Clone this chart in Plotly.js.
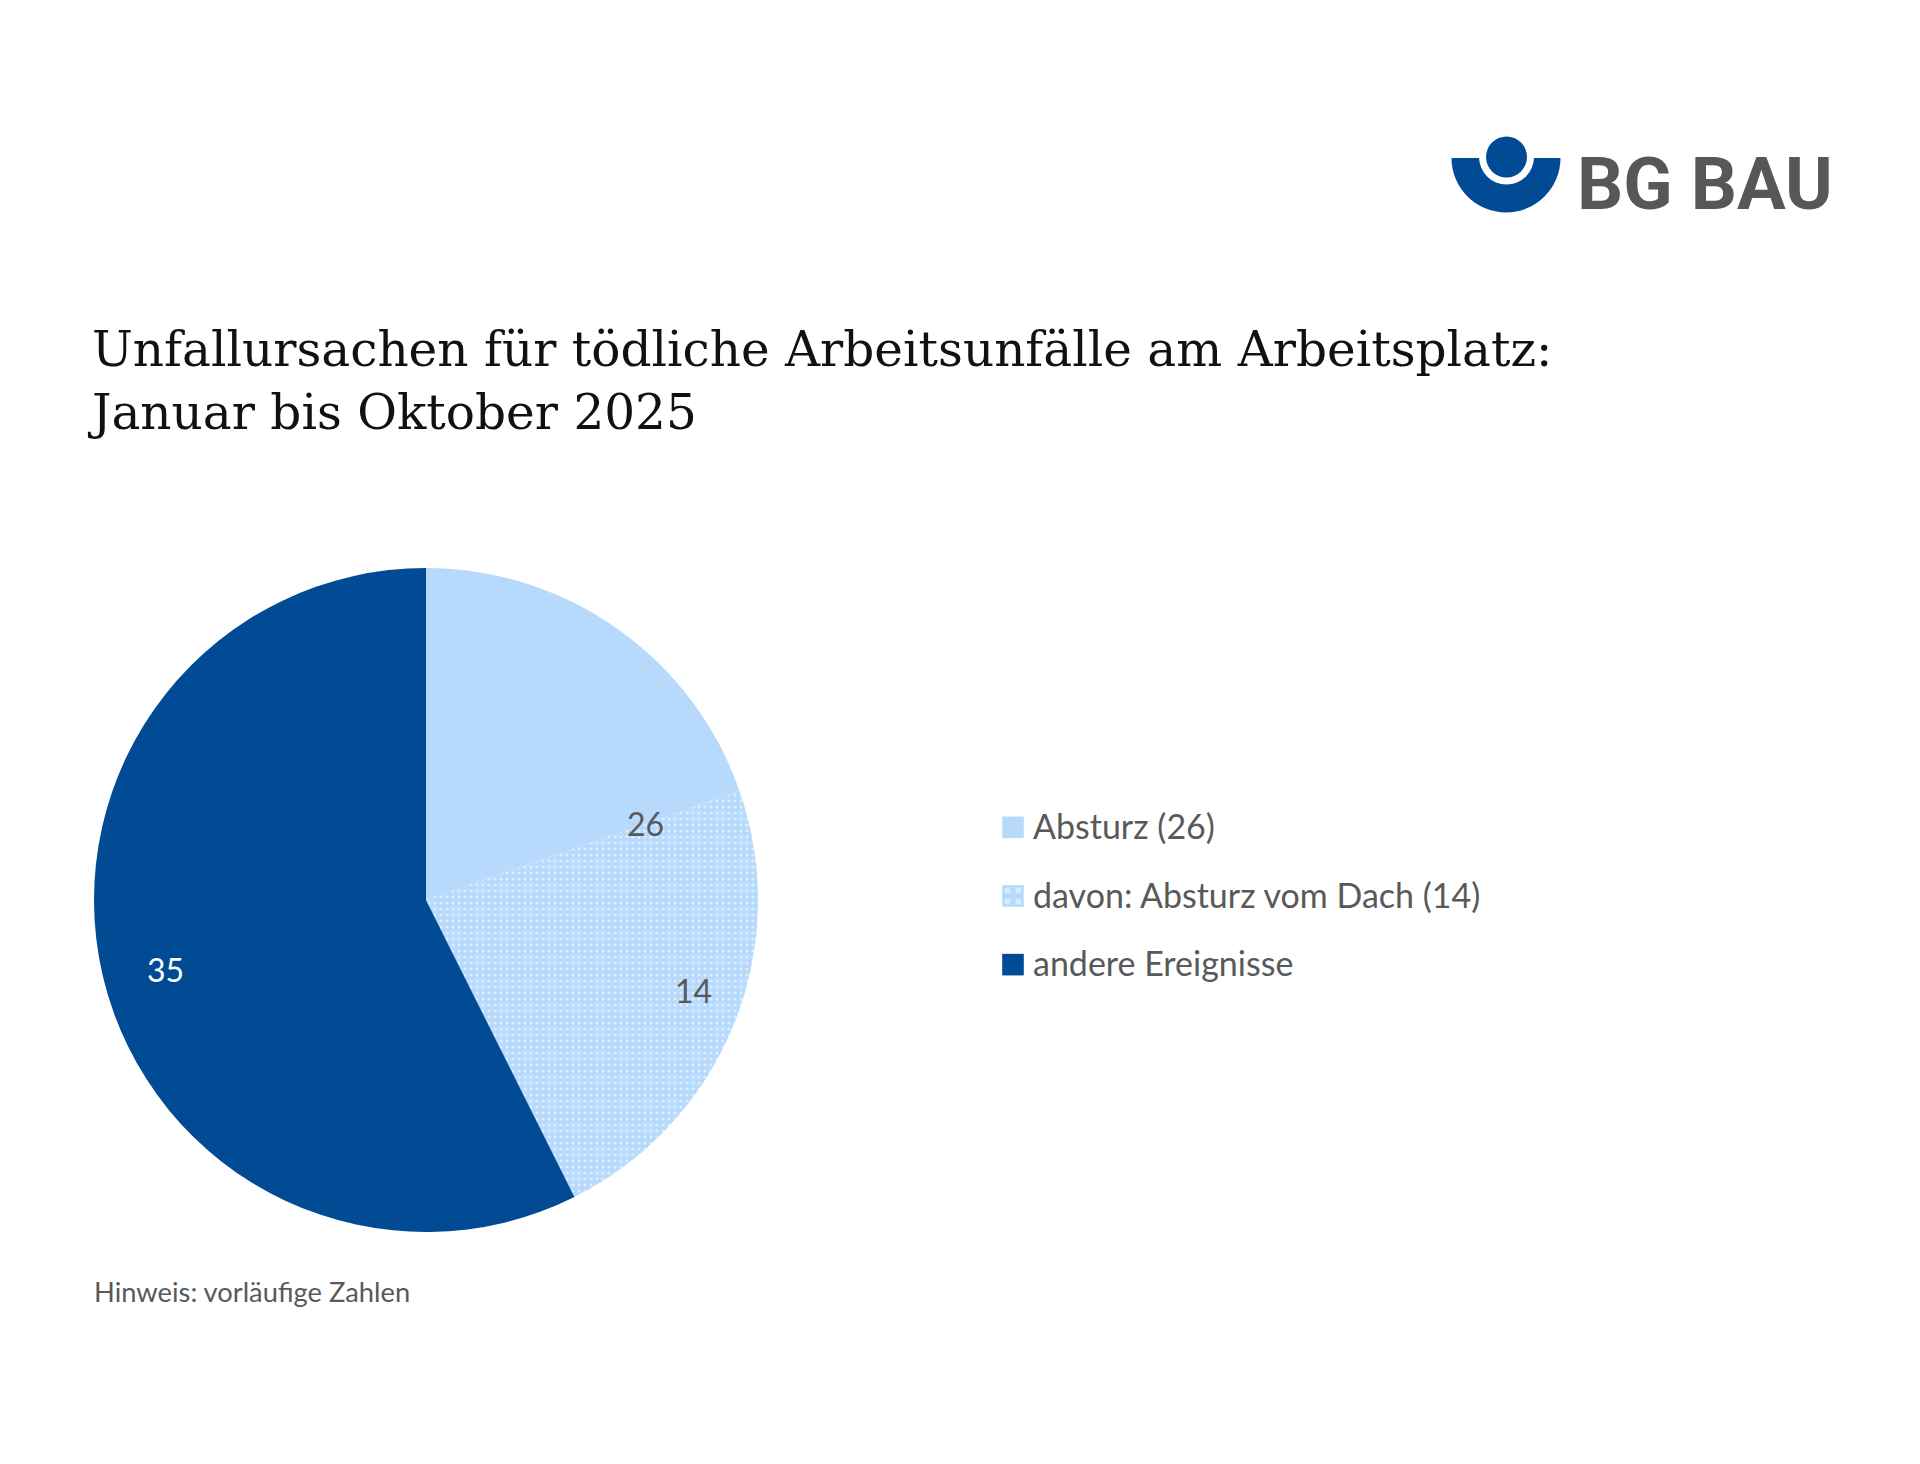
<!DOCTYPE html>
<html><head><meta charset="utf-8">
<script src="https://cdn.plot.ly/plotly-3.0.1.min.js"></script>
<style>html,body{margin:0;padding:0;background:#fff}#chart{width:1920px;height:1464px}
.legend .legendtext{transform:translateY(-8px)}
</style></head><body><div id="chart"></div><script>
// ---- data ----
const categories = ['Absturz (26)', 'davon: Absturz vom Dach (14)', 'andere Ereignisse'];
const sliceValues = [12, 14, 35];
const sliceTexts = ['26', '14', '35'];

// ---- styling ----
const W = 1920, H = 1464;
const LIGHT = '#B7DAFC', DARK = '#004B93', GRAY = '#595959';
const dom = {x: [94 / W, 758 / W], y: [1 - 1232 / H, 1 - 568 / H]};
const px = (x) => x / W, py = (y) => 1 - y / H;

const trace = {
  type: 'pie',
  values: sliceValues,
  labels: categories.map(c => '<span style="font-size:34px">' + c + '</span>'),
  textinfo: 'none',
  sort: false,
  direction: 'clockwise',
  rotation: 0,
  domain: dom,
  marker: {
    colors: [LIGHT, LIGHT, DARK],
    line: {width: 0},
    pattern: {shape: ['', '.', ''], fgcolor: '#ffffff', bgcolor: [LIGHT, LIGHT, DARK], size: 6, solidity: 0.22, fillmode: 'overlay'}
  },
  hoverinfo: 'none'
};

// value labels placed via the pie geometry computed from the data
const total = sliceValues.reduce((a, b) => a + b, 0);
const cxp = (dom.x[0] + dom.x[1]) / 2 * W, cyp = (1 - (dom.y[0] + dom.y[1]) / 2) * H;
const R = Math.min((dom.x[1] - dom.x[0]) * W, (dom.y[1] - dom.y[0]) * H) / 2;
const labelColors = [GRAY, GRAY, '#ffffff'];
const valueAnnotations = [];
let cum = 0;
sliceValues.forEach((v, i) => {
  // first label ("26") refers to the whole Absturz group: sits at the group split, inner radius
  const frac = i === 0 ? (cum + v) / total : (cum + v / 2) / total;
  const rr = i === 0 ? 0.70 : 0.87;
  const th = frac * 2 * Math.PI;
  const lx = cxp + rr * R * Math.sin(th), ly = cyp - rr * R * Math.cos(th);
  valueAnnotations.push({text: sliceTexts[i], x: px(lx), y: py(ly), xref: 'paper', yref: 'paper',
    showarrow: false, yshift: i === 0 ? 0 : -3, font: {family: 'Lato', size: 32, color: labelColors[i]}});
  cum += v;
});

const layout = {
  width: W, height: H,
  margin: {l: 0, r: 0, t: 0, b: 0},
  paper_bgcolor: '#ffffff',
  showlegend: true,
  legend: {
    x: px(993), y: py(788), xanchor: 'left', yanchor: 'top',
    font: {family: 'Lato', size: 50.5, color: GRAY},
    bgcolor: 'rgba(0,0,0,0)', traceorder: 'normal'
  },
  title: {
    text: 'Unfallursachen für tödliche Arbeitsunfälle am Arbeitsplatz:<br>Januar bis Oktober 2025',
    font: {family: 'DejaVu Serif', size: 48.5, color: '#111111'},
    x: px(92), xanchor: 'left', xref: 'paper',
    y: py(366), yanchor: 'top', yref: 'paper'
  },
  annotations: valueAnnotations.concat([
    {text: 'Hinweis: vorläufige Zahlen', x: px(92), y: py(1310), xref: 'paper', yref: 'paper',
     xanchor: 'left', yanchor: 'bottom', showarrow: false, font: {family: 'Lato', size: 27.3, color: GRAY}},
    {text: '<b>BG BAU</b>', x: px(1575), y: py(184), xref: 'paper', yref: 'paper',
     xanchor: 'left', yanchor: 'middle', showarrow: false, font: {family: 'Roboto', size: 72.5, color: '#575757'}}
  ]),
  shapes: [
    {type: 'circle', xref: 'paper', yref: 'paper', x0: px(1451.5), x1: px(1560.5), y0: py(212.5), y1: py(103.5), fillcolor: DARK, line: {width: 0}},
    {type: 'rect', xref: 'paper', yref: 'paper', x0: px(1448), x1: px(1564), y0: py(158), y1: py(100), fillcolor: '#ffffff', line: {width: 0}},
    {type: 'circle', xref: 'paper', yref: 'paper', x0: px(1479), x1: px(1534), y0: py(184.5), y1: py(129.5), fillcolor: '#ffffff', line: {width: 0}},
    {type: 'circle', xref: 'paper', yref: 'paper', x0: px(1486), x1: px(1527), y0: py(177.5), y1: py(136.5), fillcolor: DARK, line: {width: 0}}
  ]
};

Plotly.newPlot('chart', [trace], layout, {displayModeBar: false, staticPlot: true}).then(function (gd) {
  document.querySelectorAll('.legend path.legendpie').forEach(function (p) {
    const t = p.getAttribute('transform') || '';
    p.setAttribute('transform', t + ' scale(1.8)');
  });
});
</script></body></html>
